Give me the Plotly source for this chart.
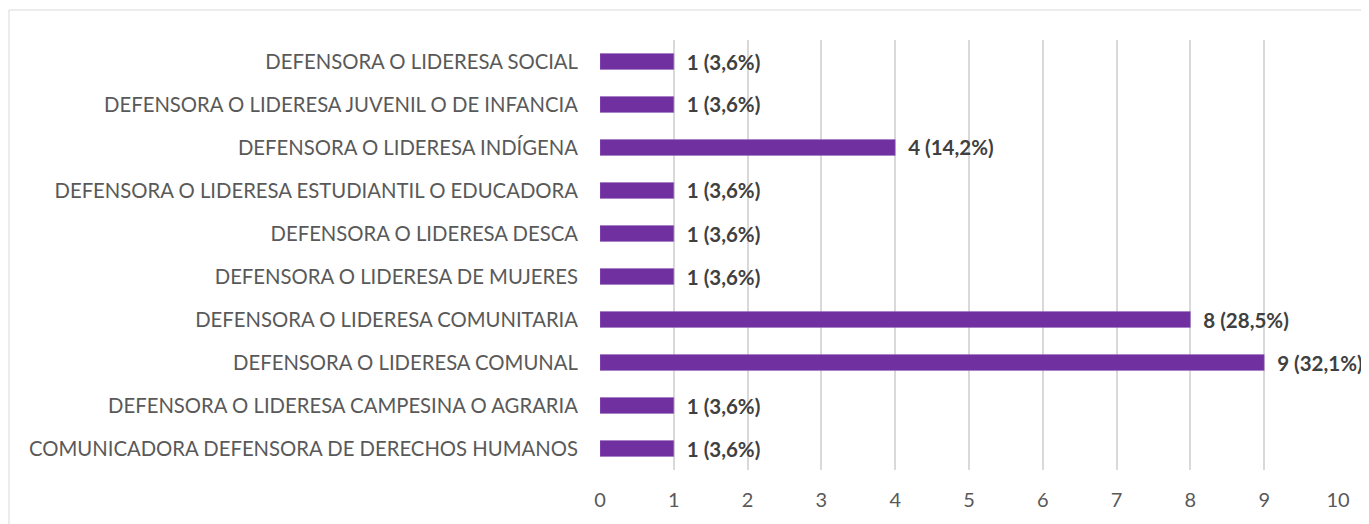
import plotly.graph_objects as go

categorias = [
    "COMUNICADORA DEFENSORA DE DERECHOS HUMANOS",
    "DEFENSORA O LIDERESA CAMPESINA O AGRARIA",
    "DEFENSORA O LIDERESA COMUNAL",
    "DEFENSORA O LIDERESA COMUNITARIA",
    "DEFENSORA O LIDERESA DE MUJERES",
    "DEFENSORA O LIDERESA DESCA",
    "DEFENSORA O LIDERESA ESTUDIANTIL O EDUCADORA",
    "DEFENSORA O LIDERESA INDÍGENA",
    "DEFENSORA O LIDERESA JUVENIL O DE INFANCIA",
    "DEFENSORA O LIDERESA SOCIAL",
]
casos = [1, 1, 9, 8, 1, 1, 1, 4, 1, 1]
porcentajes = ["3,6%", "3,6%", "32,1%", "28,5%", "3,6%", "3,6%", "3,6%", "14,2%", "3,6%", "3,6%"]
x_ticks = list(range(0, 11))

# espacio delante de la etiqueta, como en el original
etiquetas = [f"\u00a0\u00a0{c} ({p})" for c, p in zip(casos, porcentajes)]

# la página tiene 8px de margen en el body
W, H = 1361, 516
m_l, m_r, m_t, m_b = 592, 31, 32, 54
pw = W - m_l - m_r
ph = H - m_t - m_b

fig = go.Figure()
fig.add_trace(
    go.Bar(
        x=casos,
        y=categorias,
        orientation="h",
        width=0.37,
        marker=dict(color="#7030A0", line=dict(color="#9b6cc0", width=0.5)),
        text=etiquetas,
        textposition="outside",
        constraintext="none",
        cliponaxis=False,
        textfont=dict(family="Lato, sans-serif", size=20.5, color="#404040", weight="bold"),
    )
)

# marco exterior del gráfico (como en Excel)
fig.add_shape(
    type="rect",
    xref="paper",
    yref="paper",
    x0=(1 - m_l) / pw,
    x1=(W + 5 - m_l) / pw,
    y0=-(m_b + 5) / ph,
    y1=(H - m_b - 2) / ph,
    line=dict(color="#d9d9d9", width=1),
    layer="below",
)

fig.update_layout(
    width=W,
    height=H,
    margin=dict(l=m_l, r=m_r, t=m_t, b=m_b, autoexpand=False),
    plot_bgcolor="white",
    paper_bgcolor="white",
    showlegend=False,
    font=dict(family="Lato, sans-serif", size=20, color="#595959"),
    xaxis=dict(
        range=[0, 10],
        tickvals=x_ticks,
        showgrid=True,
        gridcolor="#d9d9d9",
        gridwidth=1.5,
        zeroline=False,
        showline=False,
        ticks="",
        automargin=False,
        ticklabelstandoff=16,
        tickfont=dict(size=20, color="#595959"),
    ),
    yaxis=dict(
        showgrid=False,
        showline=False,
        ticks="",
        automargin=False,
        ticklabelstandoff=21,
        tickfont=dict(size=20.3, color="#595959"),
    ),
)

fig.write_html("out.html")
